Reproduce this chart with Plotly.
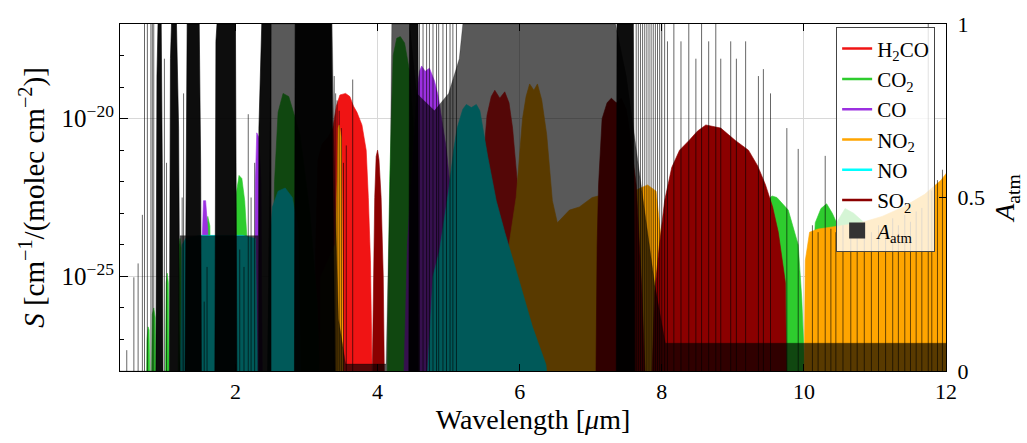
import plotly.graph_objects as go

# ---------------- data ----------------
# band envelopes: wavelength [um] and log10 S [cm^-1/(molec cm^-2)]; None separates bands
h2co_wl = [3.10, 3.13, 3.16, 3.22, 3.30, 3.37, 3.42, 3.47, 3.55, 3.61, 3.66, 3.71, 3.78, 3.84, 3.87, 3.90, 3.93, None,
           5.42, 5.46, 5.50, 5.54, 5.60, 5.65, 5.72, 5.79, 5.85, 5.90, 5.97, 6.03, 6.10]
h2co_logS = [-29, -24, -21.3, -20.8, -20.6, -20.3, -19.6, -19.25, -19.2, -19.3, -19.6, -19.8, -20.2, -21.0, -22.5, -24.5, -29, None,
             -29, -23, -21, -19.9, -19.3, -19.1, -19.35, -19.15, -19.5, -20.3, -22.1, -24, -29]

co2_wl = [0.745, 0.755, 0.77, 0.785, 0.80, None,
          0.815, 0.83, 0.85, 0.87, 0.885, None,
          1.01, 1.025, 1.04, 1.055, 1.07, None,
          1.19, 1.205, 1.22, 1.235, 1.25, None,
          1.57, 1.59, 1.61, 1.64, 1.67, None,
          1.98, 2.01, 2.05, 2.09, 2.13, 2.18, 2.23, None,
          2.50, 2.55, 2.60, 2.67, 2.75, 2.82, 2.91, 3.05, 3.15, 3.20, None,
          4.13, 4.17, 4.22, 4.27, 4.32, 4.38, 4.45, 4.50, 4.55, 4.58, None,
          8.90, 9.00, 9.20, 9.40, 9.55, 9.62, 9.70, 9.78, 9.92, 9.97, 10.03, None,
          10.04, 10.06, 10.16, 10.24, 10.32, 10.40, 10.46, 10.58, 10.70, 10.85, 11.00, 11.15, 11.30]
co2_logS = [-29, -27.0, -26.6, -26.7, -29, None,
            -29, -26.2, -26.0, -26.3, -29, None,
            -29, -25.2, -24.9, -25.2, -29, None,
            -29, -24.0, -23.8, -24.1, -29, None,
            -29, -23.5, -23.1, -23.4, -29, None,
            -29, -22.4, -21.8, -21.9, -22.6, -24.5, -29, None,
            -29, -22.0, -19.8, -19.2, -19.3, -19.8, -20.5, -23.0, -25.8, -29, None,
            -29, -22.0, -18.0, -17.45, -17.4, -17.6, -18.5, -20.0, -23.0, -29, None,
            -29, -25.0, -23.6, -22.8, -22.45, -22.5, -22.7, -22.9, -24.0, -25.7, -29, None,
            -29, -27.5, -23.3, -22.85, -22.7, -23.0, -23.3, -22.85, -23.0, -23.3, -23.7, -24.5, -29]

co_wl = [1.515, 1.53, 1.55, 1.58, 1.61, 1.63, None,
         2.265, 2.28, 2.30, 2.33, 2.36, 2.38, None,
         4.36, 4.42, 4.50, 4.55, 4.59, 4.62, 4.67, 4.73, 4.80, 4.85, 4.97, 5.06, 5.15, 5.20]
co_logS = [-29, -24, -22.6, -22.6, -23.5, -29, None,
           -29, -22.0, -20.45, -20.6, -22.0, -29, None,
           -29, -24.0, -21.0, -19.2, -18.5, -18.33, -18.5, -18.4, -18.8, -19.25, -21.0, -23.1, -26.0, -29]

no2_wl = [3.18, 3.20, 3.30, 3.40, 3.43, 3.445, 3.46, 3.49, 3.50, 3.52, None,
          5.75, 5.85, 5.95, 6.04, 6.09, 6.14, 6.20, 6.25, 6.31, 6.38, 6.46, 6.53, 6.70, 6.84, 7.02, 7.20, 7.40,
          7.60, 7.80, 7.92, 8.00, 8.05, None,
          10.00, 10.02, 10.08, 10.20, 10.50, 10.80, 11.10, 11.40, 11.70, 11.93, 12.05, 12.05]
no2_logS = [-29, -25.0, -24.5, -24.0, -22.0, -20.3, -20.2, -20.6, -22.5, -29, None,
            -29, -24.0, -22.5, -20.0, -19.3, -18.9, -19.1, -18.9, -19.4, -20.5, -22.6, -23.3, -22.9, -22.8, -22.5,
            -22.4, -22.5, -22.3, -22.1, -22.3, -24.0, -29, None,
            -29, -24.5, -23.6, -23.5, -23.4, -23.3, -23.1, -22.8, -22.4, -21.95, -21.6, -29]

no_wl = [1.22, 1.25, 1.30, 1.50, 1.80, 2.10, 2.28, 2.32, None,
         2.45, 2.48, 2.52, 2.60, 2.70, 2.80, 2.88, 2.92, None,
         4.68, 4.78, 4.87, 4.95, 5.00, 5.07, 5.12, 5.20, 5.25, 5.32, 5.39, 5.44, 5.55, 5.67, 5.79, 6.00, 6.18,
         6.37, 6.42]
no_logS = [-29, -24.0, -23.8, -23.7, -23.7, -23.7, -23.8, -29, None,
           -29, -24.0, -22.8, -22.3, -22.2, -22.5, -23.5, -29, None,
           -29, -25.0, -24.2, -23.0, -22.3, -21.0, -20.3, -19.7, -19.55, -19.65, -19.55, -19.75, -21.2, -22.6,
           -23.6, -25.2, -26.6, -27.8, -29]

so2_wl = [3.92, 3.94, 3.96, 3.98, 4.00, 4.02, 4.05, 4.08, 4.10, None,
          7.07, 7.09, 7.11, 7.16, 7.23, 7.29, 7.36, 7.43, 7.50, 7.54, 7.64, 7.72, 7.78, None,
          7.85, 7.90, 7.96, 8.04, 8.14, 8.25, 8.38, 8.50, 8.62, 8.72, 8.83, 9.04, 9.22, 9.35, 9.46, 9.56,
          9.64, 9.74, 9.76]
so2_logS = [-29, -25.0, -22.5, -21.2, -21.0, -21.3, -22.5, -25.0, -29, None,
            -29, -24.0, -22.1, -20.0, -19.5, -19.35, -19.5, -19.35, -19.7, -20.3, -22.1, -25.5, -29, None,
            -29, -25.5, -24.15, -22.6, -21.55, -21.0, -20.7, -20.4, -20.2, -20.25, -20.3, -20.7, -21.0, -21.5,
            -22.1, -22.8, -23.6, -25.2, -29]

# atmospheric absorption A_atm (right axis): broad envelope
atm_wl = [0.375, 1.22, 1.22, 2.32, 2.32, 2.45, 2.50,
          3.36, 3.40, 3.45, 3.55, 4.12, 4.18, 4.20, 4.45, 4.55, 4.80, 5.00, 5.15, 5.20,
          7.35, 7.50, 7.70, 7.90, 8.05, 12.0]
atm_A = [0.0, 0.0, 0.39, 0.39, 0.0, 0.0, 1.0,
         1.0, 0.5, 0.15, 0.02, 0.02, 0.6, 1.0, 1.0, 0.8, 0.75, 0.8, 0.9, 1.0,
         1.0, 0.85, 0.55, 0.25, 0.08, 0.08]

# saturated line clusters (appear solid black)
dense_wl = [0.88, 0.895, 0.91, 0.955, 0.97, 0.98, None,
            1.07, 1.085, 1.10, 1.17, 1.20, 1.22, None,
            1.29, 1.31, 1.32, 1.49, 1.51, 1.52, None,
            1.71, 1.725, 1.74, 2.00, 2.02, None,
            2.32, 2.33, 2.37, 2.50, 2.50, None,
            2.83, 2.84, 3.35, 3.38, 3.40, None,
            4.44, 4.45, 4.57, 4.58, None,
            7.36, 7.37, 7.60, 7.62]
dense_A = [0, 0.85, 1, 1, 0.6, 0, None,
           0, 0.9, 1, 1, 0.7, 0, None,
           0, 0.95, 1, 1, 0.6, 0, None,
           0, 0.95, 1, 1, 0, None,
           0, 0.7, 1, 1, 0, None,
           0, 1, 1, 0.5, 0, None,
           0, 1, 1, 0, None,
           0, 1, 1, 0]

# individual strong absorption lines: position [um] and depth
line_wl = [0.47, 0.57, 0.63, 0.69, 0.72, 0.76, 0.81, 0.83, 0.85, 1.00, 1.03, 1.25, 1.27, 1.56, 1.60,
           2.06, 2.12, 2.18, 2.22, 2.27,
           3.39, 3.41, 3.43, 3.46, 3.49, 3.52, 3.56, 3.65,
           4.59, 4.64, 4.69, 4.73, 4.78, 4.83, 4.86, 4.92, 4.97, 5.02, 5.06, 5.11,
           7.64, 7.67, 7.70, 7.73, 7.76, 7.79, 7.82, 7.85, 7.88, 7.91, 7.94, 7.97, 8.00, 8.04, 8.08,
           8.17, 8.27, 8.38, 8.48, 8.56, 8.66, 8.76, 8.83, 8.97, 9.05, 9.18, 9.36, 9.43, 9.53, 9.76,
           9.92, 10.30,
           10.12, 10.20, 10.38, 10.45, 10.55, 10.66, 10.75, 10.85, 10.95, 11.05, 11.15, 11.25, 11.33,
           11.42, 11.50, 11.58, 11.66, 11.75, 11.80, 11.88, 11.95]
line_A = [0.06, 0.27, 0.31, 0.45, 1, 1, 1, 1, 1, 0.9, 0.6, 0.5, 0.8, 0.2, 0.3,
          0.35, 0.3, 0.74, 0.5, 0.6,
          0.85, 0.8, 0.78, 0.75, 0.7, 0.6, 0.65, 0.84,
          1, 1, 1, 1, 1, 1, 1, 1, 1, 1, 1, 1,
          1, 1, 1, 1, 1, 1, 1, 1, 1, 1, 1, 1, 1, 1, 0.95,
          1, 0.95, 1, 0.9, 1, 0.95, 1, 0.9, 0.95, 0.9, 0.95, 0.85, 0.87, 0.8, 0.7,
          0.64, 0.62,
          0.42, 0.4, 0.41, 0.4, 0.42, 0.4, 0.41, 0.43, 0.4, 0.42, 0.41, 0.44, 0.42,
          0.45, 0.43, 0.46, 0.47, 1.0, 0.52, 0.55, 0.58]

x_ticks = [2, 4, 6, 8, 10, 12]
y_major = [-25, -20]
y_minor = [-28, -27, -26, -24, -23, -22, -21, -19, -18, -17]
a_ticks = [0, 0.5, 1]
a_ticklabels = ["0", "0.5", "1"]

molecules = [
    ("H<sub>2</sub>CO", h2co_wl, h2co_logS, "#f01414"),
    ("CO<sub>2</sub>", co2_wl, co2_logS, "#2ecc2e"),
    ("CO", co_wl, co_logS, "#9b30e0"),
    ("NO<sub>2</sub>", no2_wl, no2_logS, "#ffa500"),
    ("NO", no_wl, no_logS, "#00ffff"),
    ("SO<sub>2</sub>", so2_wl, so2_logS, "#8b0000"),
]

FONT = "Liberation Serif"
fig = go.Figure()

for name, wl, ls, col in molecules:
    S = [None if v is None else 10 ** v for v in ls]
    fig.add_trace(go.Scatter(x=wl, y=S, mode="lines", fill="toself", fillcolor=col,
                             line=dict(color=col, width=0.6), showlegend=False, hoverinfo="skip",
                             xaxis="x", yaxis="y"))
    fig.add_trace(go.Scatter(x=[None], y=[None], mode="lines", name=name,
                             line=dict(color=col, width=2.5), xaxis="x", yaxis="y"))

# atmosphere on right axis (drawn on top)
fig.add_trace(go.Scatter(x=atm_wl, y=atm_A, mode="lines", fill="tozeroy",
                         fillcolor="rgba(0,0,0,0.65)", line=dict(color="rgba(0,0,0,0.5)", width=0.5),
                         showlegend=False, hoverinfo="skip", xaxis="x", yaxis="y2"))
fig.add_trace(go.Scatter(x=dense_wl, y=dense_A, mode="lines", fill="toself",
                         fillcolor="rgba(0,0,0,0.95)", line=dict(color="black", width=0.6),
                         showlegend=False, hoverinfo="skip", xaxis="x", yaxis="y2"))
lx, ly = [], []
for w, a in zip(line_wl, line_A):
    lx += [w, w, None]
    ly += [0, a, None]
fig.add_trace(go.Scatter(x=lx, y=ly, mode="lines", line=dict(color="rgba(0,0,0,0.6)", width=1),
                         showlegend=False, hoverinfo="skip", xaxis="x", yaxis="y2"))
fig.add_trace(go.Scatter(x=[None], y=[None], mode="markers", name="<i>A</i><sub>atm</sub>",
                         marker=dict(symbol="square", size=22, color="#333333"),
                         xaxis="x", yaxis="y2"))

fig.update_layout(
    width=1027, height=443,
    margin=dict(l=120, r=79, t=20, b=72),
    paper_bgcolor="white", plot_bgcolor="white",
    font=dict(family=FONT, size=20, color="black"),
    showlegend=True,
    legend=dict(x=0.867, y=0.99, xanchor="left", yanchor="top",
                bgcolor="rgba(255,255,255,0.8)", bordercolor="#444444", borderwidth=1,
                font=dict(family=FONT, size=21), tracegroupgap=0, itemwidth=30),
    xaxis=dict(range=[0.375, 12], tickvals=x_ticks, ticks="inside", ticklen=7, tickcolor="black",
               showline=True, linecolor="black", linewidth=1.2, mirror="ticks",
               showgrid=True, gridcolor="#d8d8d8", gridwidth=1, zeroline=False,
               tickfont=dict(family=FONT, size=22),
               title=dict(text="Wavelength [<i>μ</i>m]", font=dict(family=FONT, size=28), standoff=6)),
    yaxis=dict(type="log", range=[-28, -17],
               tickvals=[10 ** v for v in y_major],
               ticktext=["10<sup>−25</sup>", "10<sup>−20</sup>"],
               ticks="inside", ticklen=8, tickcolor="black",
               minor=dict(tickvals=[10 ** v for v in y_minor], ticks="inside", ticklen=4,
                          tickcolor="black", showgrid=False),
               showline=True, linecolor="black", linewidth=1.2, mirror=False,
               showgrid=True, gridcolor="#d8d8d8", gridwidth=1, zeroline=False,
               tickfont=dict(family=FONT, size=25),
               title=dict(text="<i>S</i> [cm<sup>−1</sup>/(molec cm<sup>−2</sup>)]",
                          font=dict(family=FONT, size=29), standoff=8)),
    yaxis2=dict(overlaying="y", side="right", range=[0, 1], tickvals=a_ticks, ticktext=a_ticklabels,
                ticks="inside", ticklen=7, tickcolor="black", showline=True, linecolor="black",
                linewidth=1.2, showgrid=False, zeroline=False, ticklabelstandoff=6,
                tickfont=dict(family=FONT, size=22),
                title=dict(text="<i>A</i><sub>atm</sub>", font=dict(family=FONT, size=28), standoff=10)),
)

fig.write_html("out.html")
